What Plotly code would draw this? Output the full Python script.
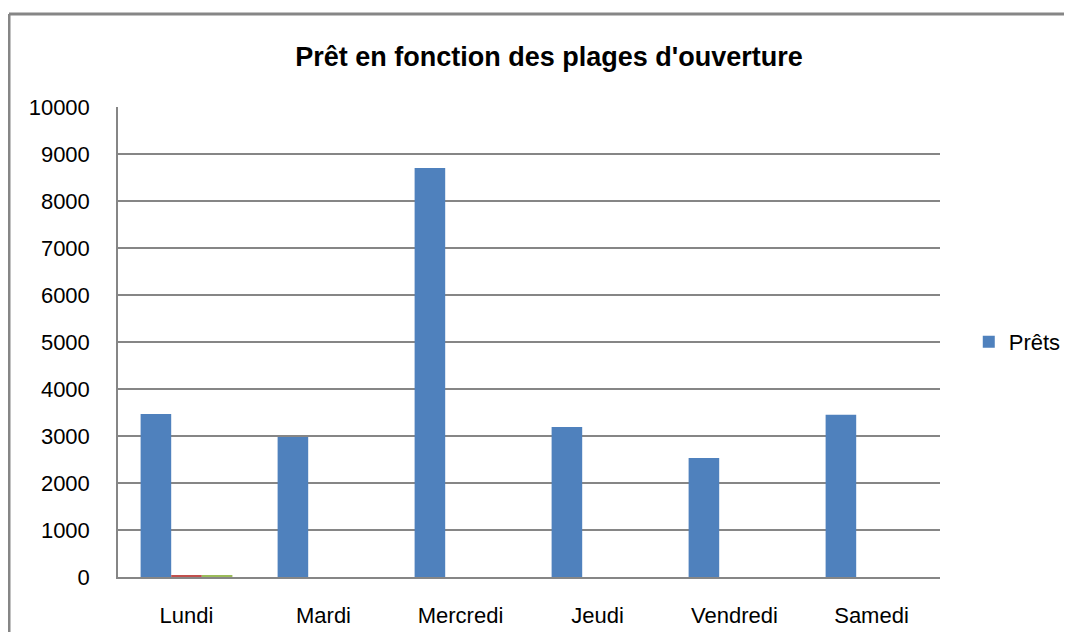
import plotly.graph_objects as go

categories = ["Lundi", "Mardi", "Mercredi", "Jeudi", "Vendredi", "Samedi"]
prets = [3470, 2980, 8700, 3190, 2530, 3450]
serie2 = [30, None, None, None, None, None]
serie3 = [25, None, None, None, None, None]
y_ticks = [0, 1000, 2000, 3000, 4000, 5000, 6000, 7000, 8000, 9000, 10000]
y_labels = [str(v) for v in y_ticks]

FONT = "Liberation Sans"
GRID = "#868686"

# page body has an ~8px default margin; compensate
OFF = 8
L, T = 118 - OFF, 107 - OFF
PW, PH = 822, 470

fig = go.Figure()
fig.add_trace(go.Bar(x=categories, y=prets, name="Prêts", marker_color="#4F81BD", marker_line_width=0))
fig.add_trace(go.Bar(x=categories, y=serie2, name="Série2", marker_color="#C0504D", marker_line_width=0, showlegend=False))
fig.add_trace(go.Bar(x=categories, y=serie3, name="Série3", marker_color="#9BBB59", marker_line_width=0, showlegend=False))

fig.update_layout(
    width=1072, height=632,
    margin=dict(l=L, r=1072 - L - PW, t=T, b=632 - T - PH),
    paper_bgcolor="white", plot_bgcolor="white",
    barmode="group", bargap=0.33, bargroupgap=0,
    font=dict(family=FONT, size=22, color="black"),
    title=dict(text="<b>Prêt en fonction des plages d'ouverture</b>", x=(549 - OFF) / 1072, xanchor="center",
               y=1 - (57 - OFF) / 632, yanchor="middle", font=dict(family=FONT, size=27, color="black")),
    legend=dict(x=1.035, xanchor="left", y=0.5, yanchor="middle", font=dict(size=22),
                itemwidth=30, bgcolor="rgba(0,0,0,0)"),
    xaxis=dict(showgrid=False, showline=True, linecolor=GRID, linewidth=1.5,
               ticks="", ticklabelstandoff=18),
    yaxis=dict(range=[0, 10000], tickvals=y_ticks, ticktext=y_labels, showgrid=True, gridcolor=GRID, gridwidth=1.5,
               showline=True, linecolor=GRID, linewidth=1.5, zeroline=False,
               ticks="", ticklabelstandoff=22),
)

# outer chart frame (top and left edges visible)
fx = (9 - 118) / PW
fy = (577 - 14) / PH
fig.add_shape(type="line", xref="paper", yref="paper", x0=fx, x1=fx, y0=-0.3, y1=fy,
              line=dict(color=GRID, width=3))
fig.add_shape(type="line", xref="paper", yref="paper", x0=fx, x1=1.4, y0=fy, y1=fy,
              line=dict(color=GRID, width=3))

fig.write_html("out.html")
